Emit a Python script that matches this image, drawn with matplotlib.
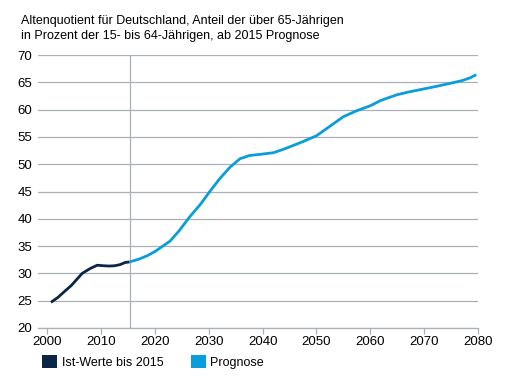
import matplotlib.pyplot as plt
from matplotlib.patches import Patch

# data ===========================================================================
ist_years = [2000.7, 2002, 2003, 2004.5, 2006.5, 2008, 2009.3, 2010.5, 2011.5, 2012.5, 2013.5, 2014.5, 2015.3]
ist_values = [24.7, 25.6, 26.5, 27.8, 30.0, 30.9, 31.5, 31.4, 31.35, 31.4, 31.6, 32.0, 32.1]

prog_years = [2015.3, 2017, 2018.5, 2020, 2022.8, 2024.5, 2026.5, 2028.5, 2030.2, 2032, 2034, 2035.8,
              2037.6, 2039.5, 2042, 2043.8, 2046.9, 2050, 2052, 2055, 2057.5, 2060, 2062,
              2064.9, 2067, 2070, 2072, 2074.8, 2077, 2078.5, 2079.7]
prog_values = [32.1, 32.6, 33.2, 34.0, 35.9, 37.8, 40.4, 42.7, 45.0, 47.3, 49.5, 51.0,
               51.6, 51.8, 52.1, 52.7, 53.9, 55.2, 56.6, 58.7, 59.8, 60.7, 61.7,
               62.7, 63.2, 63.8, 64.2, 64.8, 65.3, 65.8, 66.4]

x_ticks = [2000, 2010, 2020, 2030, 2040, 2050, 2060, 2070, 2080]
y_ticks = [20, 25, 30, 35, 40, 45, 50, 55, 60, 65, 70]

title = 'Altenquotient für Deutschland, Anteil der über 65-Jährigen\nin Prozent der 15- bis 64-Jährigen, ab 2015 Prognose'
legend_labels = ['Ist-Werte bis 2015', 'Prognose']
# =================================================================================

DARK = '#0b2645'
LIGHT = '#0a9ddc'
GRID = '#a9b0b7'

plt.rcParams['font.family'] = ['Liberation Sans', 'DejaVu Sans']

fig = plt.figure(figsize=(5.18, 3.85), dpi=100)
ax = fig.add_axes([38 / 518, 1 - 328 / 385, 440 / 518, 273 / 385])

ax.plot(ist_years, ist_values, color=DARK, linewidth=2, solid_capstyle='butt',
        solid_joinstyle='round', zorder=3)
ax.plot(prog_years, prog_values, color=LIGHT, linewidth=2, solid_capstyle='butt',
        solid_joinstyle='round', zorder=3)
ax.axvline(2015.3, color=GRID, linewidth=0.9, zorder=1)

ax.set_xlim(1998.3, 2080)
ax.set_ylim(20, 70)
ax.set_xticks(x_ticks)
ax.set_yticks(y_ticks)
ax.yaxis.grid(True, color=GRID, linewidth=0.9)
ax.set_axisbelow(True)
for side in ['top', 'right', 'left']:
    ax.spines[side].set_visible(False)
ax.spines['bottom'].set_color(GRID)
ax.spines['bottom'].set_linewidth(0.9)
ax.tick_params(axis='x', length=4, width=0.9, color=GRID, labelsize=9.5, pad=2)
ax.tick_params(axis='y', length=0, labelsize=9.5, pad=4)

fig.text(21 / 518, 1 - 15 / 385, title, fontsize=9, va='top', ha='left', linespacing=1.3)

handles = [Patch(facecolor=DARK), Patch(facecolor=LIGHT)]
fig.legend(handles, legend_labels, loc='lower left', bbox_to_anchor=(31 / 518, 1 - 380 / 385),
           ncol=2, frameon=False, fontsize=9, handlelength=1.2, handleheight=1.2,
           handletextpad=0.35, columnspacing=2.2)

plt.savefig('out.png')
